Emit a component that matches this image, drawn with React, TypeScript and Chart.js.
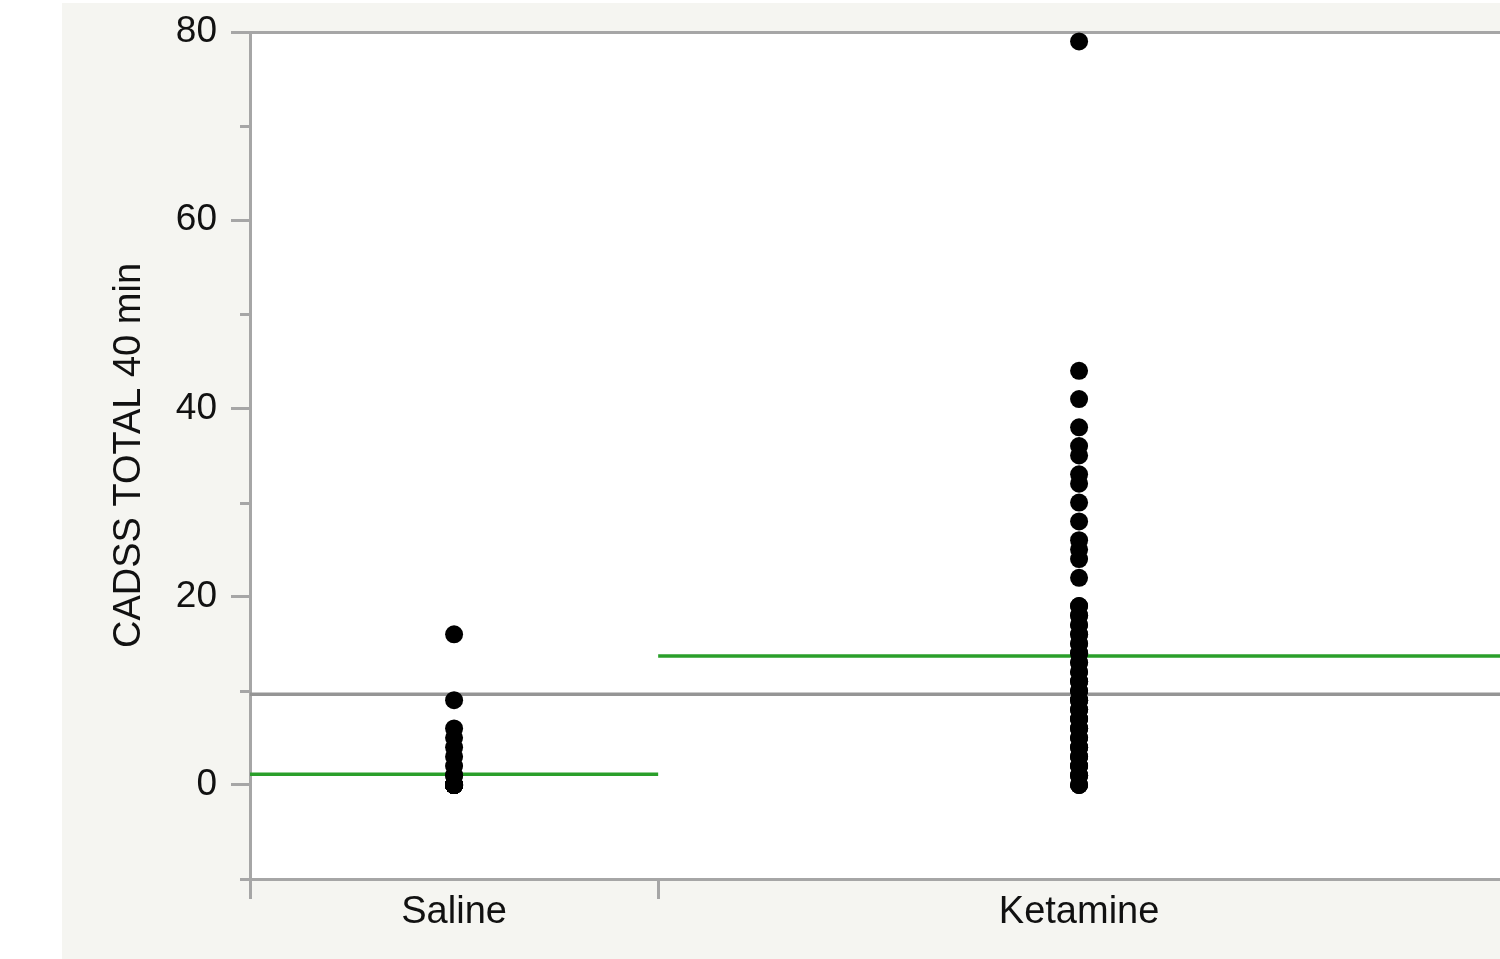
import React, { useEffect, useRef } from "react";
import { Chart, registerables } from "chart.js";

Chart.register(...registerables);

const groups = ["Saline", "Ketamine"];
const salineValues = [
  16, 9, 6, 5, 4, 3, 2, 1, 1,
  0, 0, 0, 0, 0, 0, 0, 0, 0, 0, 0, 0, 0, 0, 0, 0, 0, 0, 0, 0, 0, 0, 0,
];
const ketamineValues = [
  79, 44, 41, 38, 36, 35, 33, 32, 30, 28, 26, 25, 24, 22,
  19, 18, 17, 16, 15, 14, 13, 12, 11, 10, 9, 8, 7, 6, 5, 4, 3, 2, 1, 0,
  19, 18, 17, 16, 15, 14, 13, 12, 11, 10, 9, 8, 7, 6, 5, 4, 3, 2, 1, 0,
  11, 10, 9, 8, 7, 6, 5, 4, 3, 2, 1, 0,
];
const groupMeans = [1.12, 13.7];
const grandMean = 9.63;
const yMajorTicks = [0, 20, 40, 60, 80];
const yMinorTicks = [-10, 10, 30, 50, 70];
const yTitle = "CADSS TOTAL 40 min";

const AXIS_GRAY = "#a6a6a6";
const FONT = "'Liberation Sans', Arial, Helvetica, sans-serif";

export default function App() {
  const ref = useRef<HTMLCanvasElement | null>(null);

  useEffect(() => {
    if (!ref.current) return;
    const values = [salineValues, ketamineValues];
    const sizes = values.map((v) => v.length);
    const starts: number[] = [];
    let acc = 0;
    sizes.forEach((s) => {
      starts.push(acc);
      acc += s;
    });
    const total = acc;
    const centers = sizes.map((s, i) => starts[i] + s / 2);
    const boundaries = starts.slice();

    const pointSets = values.map((vals, i) => ({
      type: "scatter" as const,
      label: groups[i],
      data: vals.map((v) => ({ x: centers[i], y: v })),
      backgroundColor: "#000",
      borderWidth: 0,
      pointRadius: 9,
      pointHoverRadius: 9,
      order: 0,
    }));
    const meanSets = groupMeans.map((m, i) => ({
      type: "line" as const,
      label: groups[i] + " mean",
      data: [
        { x: starts[i], y: m },
        { x: starts[i] + sizes[i], y: m },
      ],
      borderColor: "#2a9f2a",
      borderWidth: 3.5,
      pointRadius: 0,
      order: 1,
    }));
    const grandSet = {
      type: "line" as const,
      label: "grand mean",
      data: [
        { x: 0, y: grandMean },
        { x: total, y: grandMean },
      ],
      borderColor: "#959595",
      borderWidth: 3.5,
      pointRadius: 0,
      order: 2,
    };

    const bgPlugin = {
      id: "bg",
      beforeDraw(chart: any) {
        const { ctx, chartArea } = chart;
        ctx.save();
        ctx.fillStyle = "#ffffff";
        ctx.fillRect(chartArea.left, chartArea.top, chartArea.right - chartArea.left, chartArea.bottom - chartArea.top);
        ctx.restore();
      },
    };
    const minorPlugin = {
      id: "minor",
      afterDraw(chart: any) {
        const { ctx, chartArea } = chart;
        const y = chart.scales.y;
        ctx.save();
        ctx.strokeStyle = AXIS_GRAY;
        ctx.lineWidth = 3;
        yMinorTicks.forEach((v) => {
          const py = Math.round(y.getPixelForValue(v)) + 0.5;
          ctx.beginPath();
          ctx.moveTo(chartArea.left - 10, py);
          ctx.lineTo(chartArea.left, py);
          ctx.stroke();
        });
        ctx.restore();
      },
    };

    const chart = new Chart(ref.current, {
      type: "scatter",
      data: { datasets: [...pointSets, ...meanSets, grandSet] as any },
      options: {
        animation: false,
        responsive: false,
        layout: { autoPadding: false, padding: { left: 0, right: 0, top: 29, bottom: 0 } },
        plugins: { legend: { display: false }, tooltip: { enabled: false } },
        scales: {
          x: {
            type: "linear",
            min: 0,
            max: total,
            afterBuildTicks: (scale: any) => {
              const vals = [...boundaries, ...centers].sort((a, b) => a - b);
              scale.ticks = vals.map((v) => ({ value: v }));
            },
            afterFit: (scale: any) => {
              scale.height = 80;
              scale.paddingLeft = 0;
              scale.paddingRight = 0;
            },
            ticks: {
              autoSkip: false,
              maxRotation: 0,
              padding: -5,
              color: "#111",
              font: { family: FONT, size: 38, lineHeight: 1 },
              callback: (v: any) => {
                const idx = centers.indexOf(Number(v));
                return idx >= 0 ? groups[idx] : "";
              },
            },
            grid: {
              display: true,
              drawOnChartArea: false,
              tickLength: 20,
              lineWidth: 3,
              tickWidth: 3,
              tickColor: (ctx: any) =>
                ctx.tick && boundaries.includes(ctx.tick.value) ? AXIS_GRAY : "rgba(0,0,0,0)",
              color: "rgba(0,0,0,0)",
            },
            border: { display: true, color: AXIS_GRAY, width: 3 },
          },
          y: {
            type: "linear",
            min: -10,
            max: 80,
            afterBuildTicks: (scale: any) => {
              scale.ticks = yMajorTicks.map((v) => ({ value: v }));
            },
            afterFit: (scale: any) => {
              scale.width = 188;
              scale.paddingTop = 0;
              scale.paddingBottom = 0;
            },
            ticks: {
              padding: 14,
              color: "#111",
              font: { family: FONT, size: 37 },
              callback: (v: any) => String(v),
            },
            grid: {
              display: true,
              drawOnChartArea: true,
              tickLength: 19,
              lineWidth: 3,
              tickWidth: 3,
              tickColor: AXIS_GRAY,
              color: (ctx: any) => (ctx.tick && ctx.tick.value === 80 ? AXIS_GRAY : "rgba(0,0,0,0)"),
            },
            border: { display: true, color: AXIS_GRAY, width: 3 },
            title: {
              display: true,
              text: yTitle,
              color: "#111",
              font: { family: FONT, size: 38 },
              padding: { top: 45, bottom: 0 },
            },
          },
        },
      },
      plugins: [bgPlugin, minorPlugin],
    } as any);
    return () => chart.destroy();
  }, []);

  return (
    <div style={{ position: "fixed", left: 0, top: 0, width: 1500, height: 959, background: "#ffffff" }}>
      <div style={{ position: "absolute", left: 62, top: 3, width: 1438, height: 956, background: "#f5f5f1" }}>
        <canvas ref={ref} width={1438} height={956} style={{ display: "block" }} />
      </div>
    </div>
  );
}
